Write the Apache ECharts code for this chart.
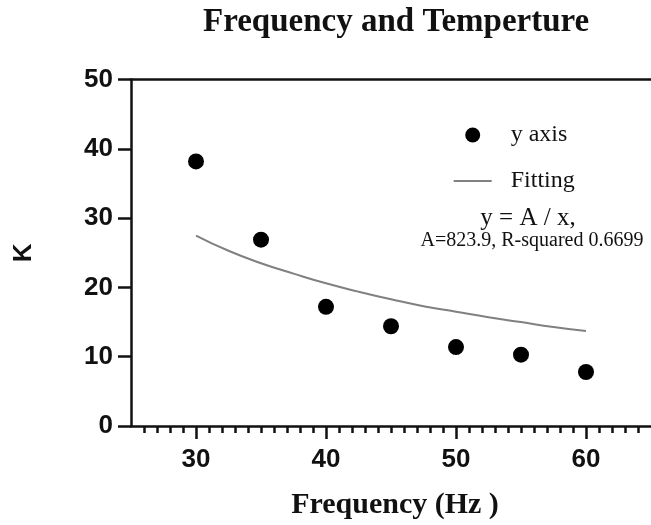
<!DOCTYPE html>
<html>
<head>
<meta charset="utf-8">
<title>Frequency and Temperture</title>
<script src="https://cdn.jsdelivr.net/npm/echarts@6/dist/echarts.min.js"></script>
<style>
  html, body { margin: 0; padding: 0; background: #fff; }
  #chart { width: 651px; height: 525px; }
</style>
</head>
<body>
<div id="chart"></div>
<script>
// Measured K values at each frequency
const frequency = [30, 35, 40, 45, 50, 55, 60];
const kValues = [38.2, 26.9, 17.2, 14.4, 11.4, 10.3, 7.8];

// Fitted curve y = A / x, sampled along the frequency range
const fitX = [30, 32.5, 35, 37.5, 40, 42.5, 45, 47.5, 50, 52.5, 55, 57.5, 60];
const fitY = [27.5, 25.3, 23.5, 22.0, 20.6, 19.4, 18.3, 17.3, 16.5, 15.7, 15.0, 14.3, 13.7];

// Axis tick labels
const xMajorTicks = [30, 40, 50, 60];
const xMinorTicks = [];
for (let v = 26; v <= 64; v++) if (v % 10 !== 0) xMinorTicks.push(v);
const yTicks = [0, 10, 20, 30, 40, 50];

const fitText = 'y = A / x,';
const fitParams = 'A=823.9, R-squared 0.6699';

const SANS = '"Liberation Sans", Arial, sans-serif';
const SERIF = '"Liberation Serif", "Times New Roman", serif';
const INK = '#111';

const chart = echarts.init(document.getElementById('chart'), null, { renderer: 'canvas' });

const xRange = { min: 25, max: 65 };

chart.setOption({
  animation: false,
  backgroundColor: '#fff',
  title: {
    text: 'Frequency and Temperture',
    left: 203,
    top: 6,
    padding: 0,
    textStyle: { fontFamily: SERIF, fontWeight: 'bold', fontSize: 33, color: INK }
  },
  grid: { left: 131, top: 79.7, width: 525.6, height: 348 },
  legend: {
    orient: 'vertical',
    left: 452.7,
    top: 123,
    padding: 0,
    itemWidth: 38,
    itemHeight: 15,
    itemGap: 22,
    selectedMode: false,
    textStyle: { fontFamily: SERIF, fontSize: 24, color: INK, padding: [0, 0, 0, 14] },
    data: [
      { name: 'y axis', icon: 'circle' },
      { name: 'Fitting', itemStyle: { opacity: 0 } }
    ]
  },
  xAxis: [
    {
      type: 'value',
      position: 'bottom',
      min: xRange.min,
      max: xRange.max,
      name: 'Frequency (Hz )',
      nameLocation: 'middle',
      nameGap: 64,
      nameTextStyle: { fontFamily: SERIF, fontWeight: 'bold', fontSize: 30, color: INK, padding: [0, 0, 0, 8] },
      axisLine: { show: true, onZero: false, lineStyle: { color: INK, width: 2.5 } },
      axisTick: { show: true, customValues: xMajorTicks, length: 13, lineStyle: { color: INK, width: 2.5 } },
      axisLabel: {
        customValues: xMajorTicks,
        margin: 21,
        fontFamily: SANS, fontWeight: 'bold', fontSize: 26, color: INK
      },
      splitLine: { show: false }
    },
    {
      type: 'value',
      position: 'bottom',
      min: xRange.min,
      max: xRange.max,
      axisLine: { show: false, onZero: false },
      axisTick: { show: true, customValues: xMinorTicks, length: 7, lineStyle: { color: INK, width: 2.5 } },
      axisLabel: { show: false },
      splitLine: { show: false }
    },
    {
      type: 'value',
      position: 'top',
      min: xRange.min,
      max: xRange.max,
      axisLine: { show: true, onZero: false, lineStyle: { color: INK, width: 2.5 } },
      axisTick: { show: false },
      axisLabel: { show: false },
      splitLine: { show: false }
    }
  ],
  yAxis: {
    type: 'value',
    min: yTicks[0],
    max: yTicks[yTicks.length - 1],
    interval: 10,
    name: 'K',
    nameLocation: 'middle',
    nameGap: 94,
    nameTextStyle: { fontFamily: SANS, fontWeight: 'bold', fontSize: 26, color: INK },
    axisLine: { show: true, onZero: false, lineStyle: { color: INK, width: 2.5 } },
    axisTick: { show: true, length: 13, lineStyle: { color: INK, width: 2.5 } },
    axisLabel: { margin: 18, fontFamily: SANS, fontWeight: 'bold', fontSize: 26, color: INK },
    splitLine: { show: false }
  },
  series: [
    {
      name: 'y axis',
      type: 'scatter',
      xAxisIndex: 0,
      symbol: 'circle',
      symbolSize: 16,
      itemStyle: { color: '#000', opacity: 1 },
      data: frequency.map((f, i) => [f, kValues[i]]),
      z: 3
    },
    {
      name: 'Fitting',
      type: 'line',
      xAxisIndex: 0,
      smooth: true,
      showSymbol: false,
      symbol: 'none',
      lineStyle: { color: '#808080', width: 2 },
      itemStyle: { color: '#808080' },
      data: fitX.map((x, i) => [x, fitY[i]]),
      z: 2
    }
  ],
  graphic: [
    {
      type: 'text',
      x: 528,
      y: 218,
      style: {
        text: fitText,
        fontFamily: SERIF, fontSize: 25, fill: INK,
        align: 'center', verticalAlign: 'middle'
      }
    },
    {
      type: 'text',
      x: 532,
      y: 241,
      style: {
        text: fitParams,
        fontFamily: SERIF, fontSize: 20, fill: INK,
        align: 'center', verticalAlign: 'middle'
      }
    }
  ]
});
</script>
</body>
</html>
